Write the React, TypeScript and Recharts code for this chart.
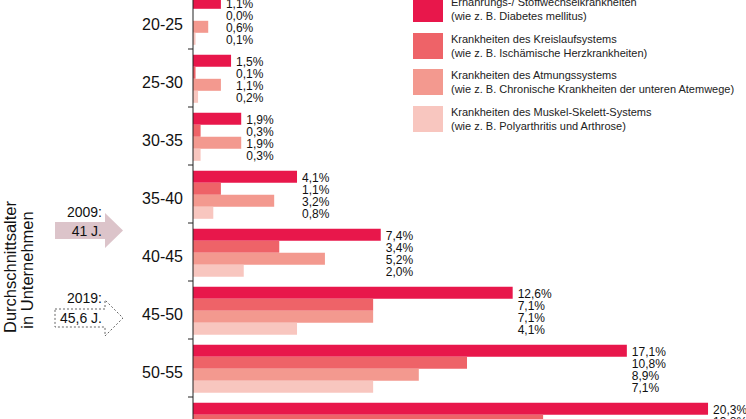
import React from 'react';
import { BarChart, Bar, XAxis, YAxis, Legend, LabelList } from 'recharts';

const ageGroups = ['20-25', '25-30', '30-35', '35-40', '40-45', '45-50', '50-55', '55-60'];
const stoffwechsel = [1.1, 1.5, 1.9, 4.1, 7.4, 12.6, 17.1, 20.3];
const kreislauf = [0.0, 0.1, 0.3, 1.1, 3.4, 7.1, 10.8, 13.8];
const atmung: (number | null)[] = [0.6, 1.1, 1.9, 3.2, 5.2, 7.1, 8.9, null];
const muskel: (number | null)[] = [0.1, 0.2, 0.3, 0.8, 2.0, 4.1, 7.1, null];

const seriesKeys = ['s1', 's2', 's3', 's4'];
const seriesNames = [
  'Ernährungs-/ Stoffwechselkrankheiten',
  'Krankheiten des Kreislaufsystems',
  'Krankheiten des Atmungssystems',
  'Krankheiten des Muskel-Skelett-Systems',
];
const seriesNotes = [
  '(wie z. B. Diabetes mellitus)',
  '(wie z. B. Ischämische Herzkrankheiten)',
  '(wie z. B. Chronische Krankheiten der unteren Atemwege)',
  '(wie z. B. Polyarthritis und Arthrose)',
];
const seriesColors = ['#E8174B', '#EE6368', '#F3998F', '#F8C6BF'];

const axisTitle = ['Durchschnittsalter', 'in Unternehmen'];
const arrow2009 = ['2009:', '41 J.'];
const arrow2019 = ['2019:', '45,6 J.'];

const data = ageGroups.map((age, i) => ({
  age,
  s1: stoffwechsel[i],
  s2: kreislauf[i],
  s3: atmung[i],
  s4: muskel[i],
}));

const FONT = '"Liberation Sans", Arial, Helvetica, sans-serif';
const CHART_W = 746;
const CHART_H = 510;
const MARGIN = { top: 41, right: 20.2, bottom: 5, left: 0 };
const PLOT_H = CHART_H - MARGIN.top - MARGIN.bottom;
const BAND = PLOT_H / ageGroups.length;

const fmt = (v: number) => v.toFixed(1).replace('.', ',') + '%';

const AgeTick = (props: any) => {
  const { x, y, payload } = props;
  return (
    <g>
      <text
        x={x - 5}
        y={y + 4}
        textAnchor="end"
        dominantBaseline="central"
        fontSize={16}
        fontFamily={FONT}
        fill="#111"
      >
        {payload.value}
      </text>
      <line x1={x} x2={x + 5} y1={y + BAND / 2} y2={y + BAND / 2} stroke="#222" strokeWidth={1} />
    </g>
  );
};

const GroupLabels = (props: any) => {
  const { x, y, width, height, index } = props;
  const vals = [stoffwechsel[index], kreislauf[index], atmung[index], muskel[index]];
  const lx = Number(x) + Number(width) + 5;
  const h = Number(height);
  return (
    <g>
      {vals.map((v, i) =>
        v == null ? null : (
          <text
            key={i}
            x={lx}
            y={Number(y) + h / 2 + i * h + 1.5}
            dominantBaseline="central"
            fontSize={12}
            fontFamily={FONT}
            fill="#111"
          >
            {fmt(v)}
          </text>
        )
      )}
    </g>
  );
};

const LegendContent = () => (
  <div style={{ fontFamily: FONT, fontSize: 11, color: '#222' }}>
    {seriesNames.map((n, i) => (
      <div key={i} style={{ display: 'flex', alignItems: 'center', height: 26, marginBottom: 10.7 }}>
        <div style={{ width: 30, height: 26, background: seriesColors[i], marginRight: 8, flexShrink: 0 }} />
        <div style={{ lineHeight: '14px', whiteSpace: 'nowrap' }}>
          <div>{n}</div>
          <div>{seriesNotes[i]}</div>
        </div>
      </div>
    ))}
  </div>
);

export default function App() {
  return (
    <div style={{ position: 'absolute', left: 0, top: 0, width: 746, height: 419, overflow: 'hidden', background: '#fff' }}>
      <div style={{ position: 'absolute', left: 0, top: -50 }}>
        <BarChart
          width={CHART_W}
          height={CHART_H}
          data={data}
          layout="vertical"
          margin={MARGIN}
          barGap={0}
          barCategoryGap="10%"
        >
          <XAxis type="number" domain={[0, 21]} hide />
          <YAxis
            type="category"
            dataKey="age"
            width={193}
            axisLine={{ stroke: '#222', strokeWidth: 1 }}
            tickLine={false}
            tickSize={5}
            tickMargin={0}
            tick={<AgeTick />}
            interval={0}
          />
          <Legend
            layout="vertical"
            align="center"
            verticalAlign="middle"
            content={<LegendContent />}
            wrapperStyle={{ position: 'absolute', left: 413, top: 46, width: 340 }}
          />
          {seriesKeys.map((k, i) => (
            <Bar key={k} dataKey={k} name={seriesNames[i]} fill={seriesColors[i]} isAnimationActive={false}>
              {i === 0 ? <LabelList dataKey={k} content={<GroupLabels />} /> : null}
            </Bar>
          ))}
        </BarChart>
      </div>
      <svg width={746} height={419} style={{ position: 'absolute', left: 0, top: 0, pointerEvents: 'none' }}>
        <g fontFamily={FONT} fill="#111">
          <text transform="translate(16,267) rotate(-90)" textAnchor="middle" fontSize={16.5}>
            {axisTitle[0]}
          </text>
          <text transform="translate(33,270) rotate(-90)" textAnchor="middle" fontSize={16.5}>
            {axisTitle[1]}
          </text>
        </g>
        <polygon
          points="55,222 105,222 105,213 123,230.5 105,248 105,239 55,239"
          fill="#DCC4CA"
        />
        <text x={102} y={212} textAnchor="end" dominantBaseline="central" fontSize={14} fontFamily={FONT} fill="#111">
          {arrow2009[0]}
        </text>
        <text x={102} y={231} textAnchor="end" dominantBaseline="central" fontSize={14} fontFamily={FONT} fill="#111">
          {arrow2009[1]}
        </text>
        <polygon
          points="55,309 105,309 105,300 123,318 105,336 105,327 55,327"
          fill="none"
          stroke="#666"
          strokeWidth={1}
          strokeDasharray="2,2"
        />
        <text x={102} y={298} textAnchor="end" dominantBaseline="central" fontSize={14} fontFamily={FONT} fill="#111">
          {arrow2019[0]}
        </text>
        <text x={102} y={318} textAnchor="end" dominantBaseline="central" fontSize={14} fontFamily={FONT} fill="#111">
          {arrow2019[1]}
        </text>
      </svg>
    </div>
  );
}
